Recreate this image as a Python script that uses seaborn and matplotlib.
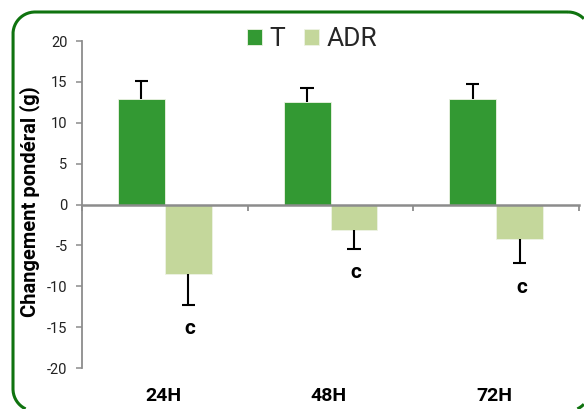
import matplotlib
matplotlib.use("Agg")
import matplotlib.pyplot as plt
import matplotlib.transforms as mtransforms
import numpy as np
import pandas as pd
import seaborn as sns

# Weight change per period, control (T) vs treated (ADR)
periods = ["24H", "48H", "72H"]
groups = ["T", "ADR"]
t_mean = [12.9, 12.5, 12.9]
t_err = [2.2, 1.7, 1.8]
adr_mean = [-8.5, -3.1, -4.2]
adr_err = [3.8, 2.3, 3.0]
adr_letters = ["c", "c", "c"]
y_ticks = [-20, -15, -10, -5, 0, 5, 10, 15, 20]

colors = {"T": "#339933", "ADR": "#c4d79b"}
axis_grey = "#8c8c8c"

sns.set_theme(style="white")
plt.rcParams["font.family"] = ["Roboto", "DejaVu Sans"]

df = pd.DataFrame({
    "period": periods * 2,
    "group": ["T"] * len(periods) + ["ADR"] * len(periods),
    "value": t_mean + adr_mean,
})

W, H = 584, 409
fig = plt.figure(figsize=(W / 100, H / 100), dpi=100)

# full-figure layer in pixel units for the rounded outer frame
bg = fig.add_axes([0, 0, 1, 1], zorder=-1)
bg.set_xlim(0, W)
bg.set_ylim(H, 0)
bg.axis("off")


def rounded_outline(left, top, right, bottom, rad, n=40):
    """Closed outline of a rounded rectangle, sampled as a polyline."""
    pts = []
    corners = [(right - rad, top + rad, -90, 0),
               (right - rad, bottom - rad, 0, 90),
               (left + rad, bottom - rad, 90, 180),
               (left + rad, top + rad, 180, 270)]
    for cx, cy, a0, a1 in corners:
        t = np.radians(np.linspace(a0, a1, n))
        pts.append(np.column_stack([cx + rad * np.cos(t), cy + rad * np.sin(t)]))
    pts.append(pts[0][:1])
    return np.vstack(pts)


outline = rounded_outline(13, 12, 590, 411, 22)
# keep only the part of the outline that falls on the canvas
off = (outline[:, 0] > W) | (outline[:, 1] > H)
outline[off] = np.nan
bg.plot(outline[:, 0], outline[:, 1], color="#0f730f", linewidth=2.2,
        solid_capstyle="butt", solid_joinstyle="round")

ax = fig.add_axes([82 / W, 1 - 368 / H, (579 - 82) / W, (368 - 41) / H])
ax.patch.set_alpha(0)

sns.barplot(data=df, x="period", y="value", hue="group", hue_order=groups,
            order=periods, palette=colors, saturation=1, width=0.566, gap=0,
            errorbar=None, edgecolor="#eef3e4", linewidth=0.6, ax=ax)

# one-sided error bars: upward for T, downward for ADR
cap_half = 0.04
for container, errs in ((ax.containers[0], t_err), (ax.containers[1], adr_err)):
    for bar, e in zip(container, errs):
        x = bar.get_x() + bar.get_width() / 2
        end = bar.get_y() + bar.get_height()
        tip = end + e if end >= 0 else end - e
        ax.vlines(x, end, tip, color="black", linewidth=1.5, zorder=3)
        ax.hlines(tip, x - cap_half, x + cap_half, color="black",
                  linewidth=1.5, zorder=3)

# significance letters under the ADR bars
for bar, e, lab in zip(ax.containers[1], adr_err, adr_letters):
    x = bar.get_x() + bar.get_width() / 2
    y = bar.get_y() + bar.get_height() - e - 2.9
    ax.text(x + 0.01, y, lab, ha="center", va="center", fontsize=15,
            fontweight="bold", color="black")

ax.set_xlim(-0.5, 2.5)
ax.set_ylim(-20, 20)
ax.set_yticks(y_ticks)
ax.set_yticklabels([str(v) for v in y_ticks], fontsize=10.5, color="#222222")
ax.set_xticks([-0.5, 0.5, 1.5, 2.5])
ax.set_xticklabels([])
ax.set_xlabel("")

for s in ("top", "right"):
    ax.spines[s].set_visible(False)
ax.spines["left"].set_color(axis_grey)
ax.spines["left"].set_linewidth(1.3)
ax.spines["bottom"].set_position(("data", 0))
ax.spines["bottom"].set_color(axis_grey)
ax.spines["bottom"].set_linewidth(1.8)
ax.tick_params(axis="y", which="both", left=True, length=4, width=1.1,
               color=axis_grey, pad=6.5)
ax.tick_params(axis="x", which="both", bottom=True, length=4, width=1.3,
               color=axis_grey)

# period labels along the bottom of the plot
trans = mtransforms.blended_transform_factory(ax.transData, ax.transAxes)
for i, p in enumerate(periods):
    ax.text(i - 0.01, -0.085, p, transform=trans, ha="center", va="center",
            fontsize=14, fontweight="bold", color="black")

ax.set_ylabel("Changement pondéral (g)", fontsize=14.5, fontweight="bold",
              color="black")
ax.yaxis.label.set(ha="center", va="center", rotation_mode="default")
ax.yaxis.set_label_coords((30 - 82) / (579 - 82), (368 - 202) / (368 - 41))

sns.move_legend(ax, "center", bbox_to_anchor=(312 / W, 1 - 39 / H),
                bbox_transform=fig.transFigure, ncol=2, frameon=False,
                title=None, fontsize=19, handlelength=0.57, handleheight=0.57,
                handletextpad=0.3, columnspacing=0.7, borderpad=0)

fig.savefig("out.png", dpi=100, facecolor="white")
